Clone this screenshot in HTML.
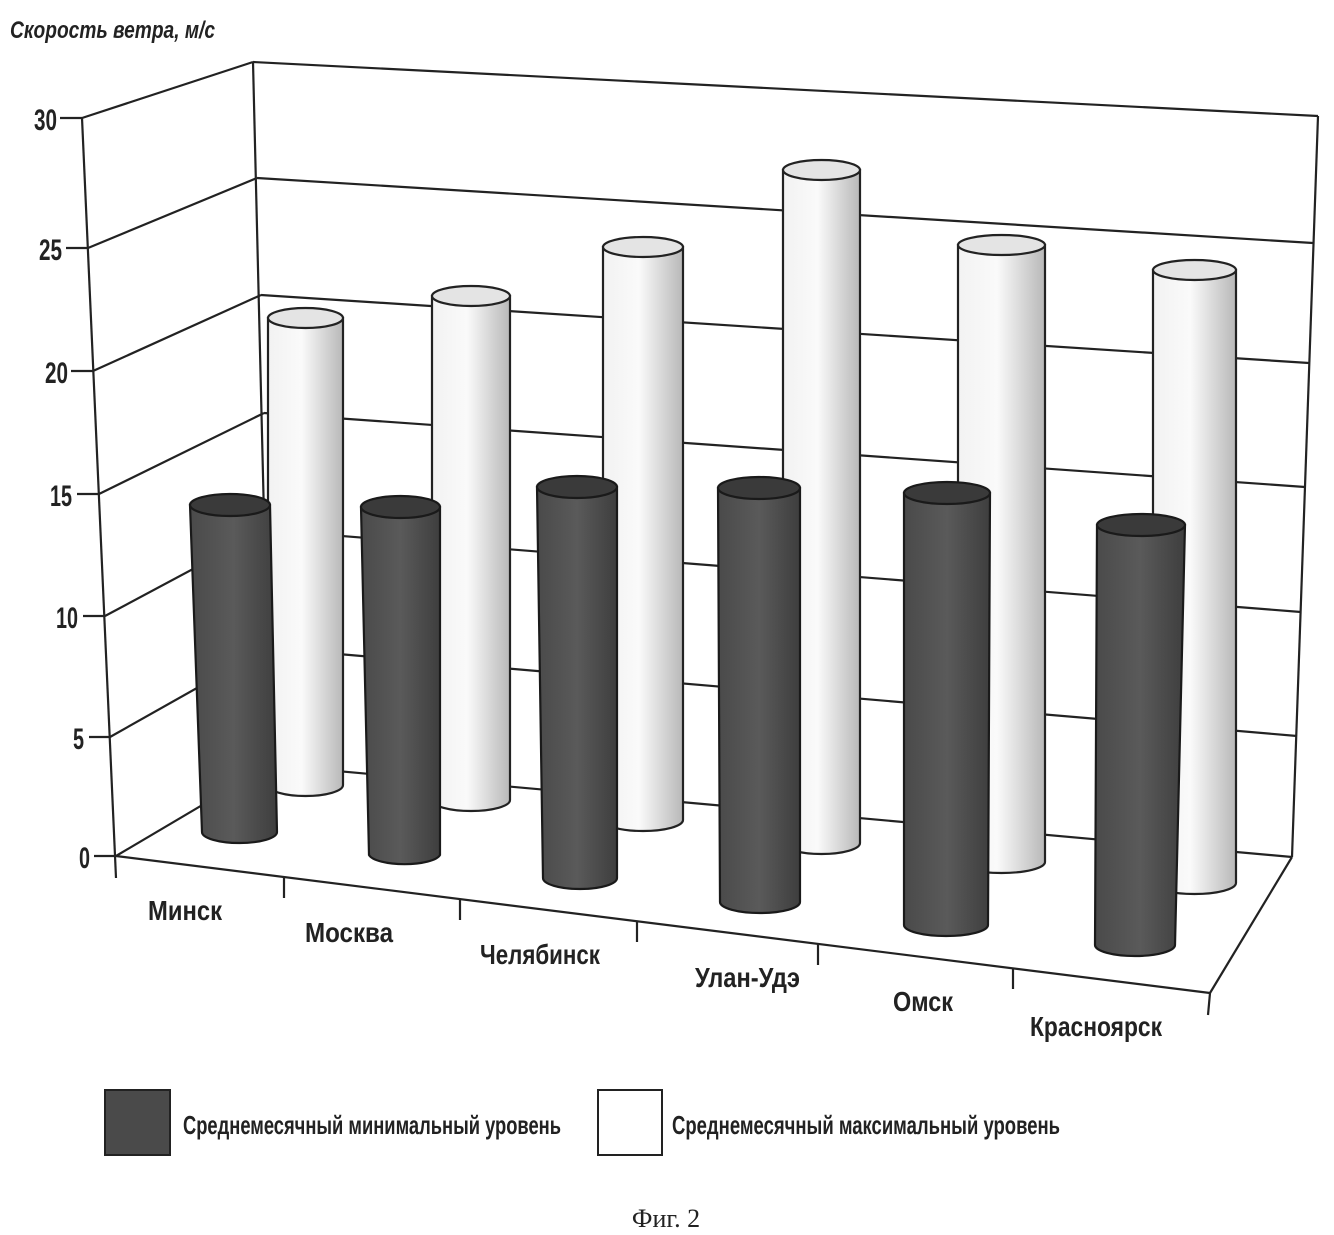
<!DOCTYPE html>
<html><head><meta charset="utf-8"><style>
html,body{margin:0;padding:0;background:#fff;}
svg{display:block}
.lbl{font-family:"Liberation Sans Narrow","Liberation Sans",sans-serif;font-weight:bold;fill:#222}
</style></head><body>
<svg width="1334" height="1235" viewBox="0 0 1334 1235" xmlns="http://www.w3.org/2000/svg">
<defs>
<linearGradient id="lg" x1="0" x2="1" y1="0" y2="0">
<stop offset="0" stop-color="#f2f2f2"/><stop offset="0.45" stop-color="#fafafa"/><stop offset="1" stop-color="#b8b8b8"/></linearGradient>
<linearGradient id="dg" x1="0" x2="1" y1="0" y2="0">
<stop offset="0" stop-color="#4a4a4a"/><stop offset="0.5" stop-color="#5a5a5a"/><stop offset="1" stop-color="#3e3e3e"/></linearGradient>
</defs>
<g stroke="#222" stroke-width="2.2" fill="none">
<line x1="82" y1="118" x2="253" y2="62"/>
<line x1="88" y1="248" x2="257" y2="178"/>
<line x1="93" y1="371" x2="261" y2="295"/>
<line x1="99" y1="494" x2="264" y2="413"/>
<line x1="105" y1="616" x2="266" y2="530"/>
<line x1="110" y1="737" x2="268" y2="648"/>
<line x1="116" y1="856" x2="270" y2="765"/>
<line x1="253" y1="62" x2="1318" y2="116"/>
<line x1="257" y1="178" x2="1313" y2="243"/>
<line x1="261" y1="295" x2="1309" y2="363"/>
<line x1="264" y1="413" x2="1305" y2="487"/>
<line x1="266" y1="530" x2="1301" y2="612"/>
<line x1="268" y1="648" x2="1297" y2="736"/>
<line x1="270" y1="765" x2="1292" y2="857"/>
<line x1="253" y1="62" x2="270" y2="765"/>
<line x1="1318" y1="116" x2="1292" y2="857"/>
<line x1="82" y1="118" x2="116" y2="878"/>
<line x1="116" y1="856" x2="1210" y2="993"/>
<line x1="1210" y1="993" x2="1292" y2="857"/>
<line x1="1210" y1="993" x2="1208" y2="1015"/>
<line x1="60" y1="118" x2="82" y2="118"/>
<line x1="66" y1="248" x2="88" y2="248"/>
<line x1="71" y1="371" x2="93" y2="371"/>
<line x1="77" y1="494" x2="99" y2="494"/>
<line x1="83" y1="616" x2="105" y2="616"/>
<line x1="89" y1="737" x2="110" y2="737"/>
<line x1="94" y1="856" x2="116" y2="856"/>
<line x1="284" y1="877" x2="284" y2="898"/>
<line x1="460" y1="899" x2="460" y2="920"/>
<line x1="637" y1="921" x2="637" y2="942"/>
<line x1="818" y1="944" x2="818" y2="965"/>
<line x1="1013" y1="968" x2="1013" y2="989"/>
</g>
<g stroke="#222" stroke-width="2.2">
<path d="M268,318 L268,785 A37.5,11 0 0 0 343,785 L343,318 Z" fill="url(#lg)"/><ellipse cx="305.5" cy="318" rx="37.5" ry="10" fill="#e4e4e4"/>
<path d="M432,296 L432,800 A39,11 0 0 0 510,800 L510,296 Z" fill="url(#lg)"/><ellipse cx="471" cy="296" rx="39" ry="10" fill="#e4e4e4"/>
<path d="M603,247 L603,820 A40,11 0 0 0 683,820 L683,247 Z" fill="url(#lg)"/><ellipse cx="643" cy="247" rx="40" ry="10" fill="#e4e4e4"/>
<path d="M783,170 L783,843 A38.5,11 0 0 0 860,843 L860,170 Z" fill="url(#lg)"/><ellipse cx="821.5" cy="170" rx="38.5" ry="10" fill="#e4e4e4"/>
<path d="M958,245 L958,862 A43.5,11 0 0 0 1045,862 L1045,245 Z" fill="url(#lg)"/><ellipse cx="1001.5" cy="245" rx="43.5" ry="10" fill="#e4e4e4"/>
<path d="M1153,270 L1153,883 A41.5,11 0 0 0 1236,883 L1236,270 Z" fill="url(#lg)"/><ellipse cx="1194.5" cy="270" rx="41.5" ry="10" fill="#e4e4e4"/>
</g>
<g stroke="#1a1a1a" stroke-width="2.2">
<path d="M190,505 L202,832 A37.5,11 0 0 0 277,832 L270,505 Z" fill="url(#dg)"/><ellipse cx="230" cy="505" rx="40" ry="11" fill="#3a3a3a"/>
<path d="M361,507 L369,855 A36,11 0 0 0 440,855 L440,507 Z" fill="url(#dg)"/><ellipse cx="400.5" cy="507" rx="39.5" ry="11" fill="#3a3a3a"/>
<path d="M537,487 L543,878 A37,11 0 0 0 617,878 L617,487 Z" fill="url(#dg)"/><ellipse cx="577" cy="487" rx="40" ry="11" fill="#3a3a3a"/>
<path d="M718,488 L720,902 A40,11 0 0 0 800,902 L800,488 Z" fill="url(#dg)"/><ellipse cx="759" cy="488" rx="41" ry="11" fill="#3a3a3a"/>
<path d="M904,493 L904,925 A42,11 0 0 0 988,925 L990,493 Z" fill="url(#dg)"/><ellipse cx="947" cy="493" rx="43" ry="11" fill="#3a3a3a"/>
<path d="M1097,525 L1095,945 A40,11 0 0 0 1175,945 L1185,525 Z" fill="url(#dg)"/><ellipse cx="1141" cy="525" rx="44" ry="11" fill="#3a3a3a"/>
</g>
<text x="10" y="38" class="lbl" font-size="24" font-style="italic" textLength="205" lengthAdjust="spacingAndGlyphs">Скорость ветра, м/с</text>
<g class="lbl" font-size="30">
<text x="34" y="130" textLength="23" lengthAdjust="spacingAndGlyphs">30</text>
<text x="39" y="260" textLength="23" lengthAdjust="spacingAndGlyphs">25</text>
<text x="45" y="383" textLength="23" lengthAdjust="spacingAndGlyphs">20</text>
<text x="50" y="506" textLength="22" lengthAdjust="spacingAndGlyphs">15</text>
<text x="56" y="628" textLength="22" lengthAdjust="spacingAndGlyphs">10</text>
<text x="73" y="749" textLength="11" lengthAdjust="spacingAndGlyphs">5</text>
<text x="79" y="868" textLength="11" lengthAdjust="spacingAndGlyphs">0</text>
</g>
<g class="lbl" font-size="28">
<text x="148" y="920" textLength="74" lengthAdjust="spacingAndGlyphs">Минск</text>
<text x="305" y="942" textLength="88" lengthAdjust="spacingAndGlyphs">Москва</text>
<text x="480" y="964" textLength="120" lengthAdjust="spacingAndGlyphs">Челябинск</text>
<text x="695" y="987" textLength="105" lengthAdjust="spacingAndGlyphs">Улан-Удэ</text>
<text x="893" y="1011" textLength="60" lengthAdjust="spacingAndGlyphs">Омск</text>
<text x="1030" y="1036" textLength="132" lengthAdjust="spacingAndGlyphs">Красноярск</text>
</g>
<rect x="105" y="1090" width="65" height="65" fill="#4a4a4a" stroke="#222" stroke-width="2"/>
<text x="183" y="1134" class="lbl" font-size="26" textLength="378" lengthAdjust="spacingAndGlyphs">Среднемесячный минимальный уровень</text>
<rect x="598" y="1090" width="64" height="65" fill="#fff" stroke="#222" stroke-width="2"/>
<text x="672" y="1134" class="lbl" font-size="26" textLength="388" lengthAdjust="spacingAndGlyphs">Среднемесячный максимальный уровень</text>
<text x="666" y="1227" text-anchor="middle" font-family="Liberation Serif,serif" font-size="26" fill="#222">Фиг. 2</text>
</svg>
</body></html>
